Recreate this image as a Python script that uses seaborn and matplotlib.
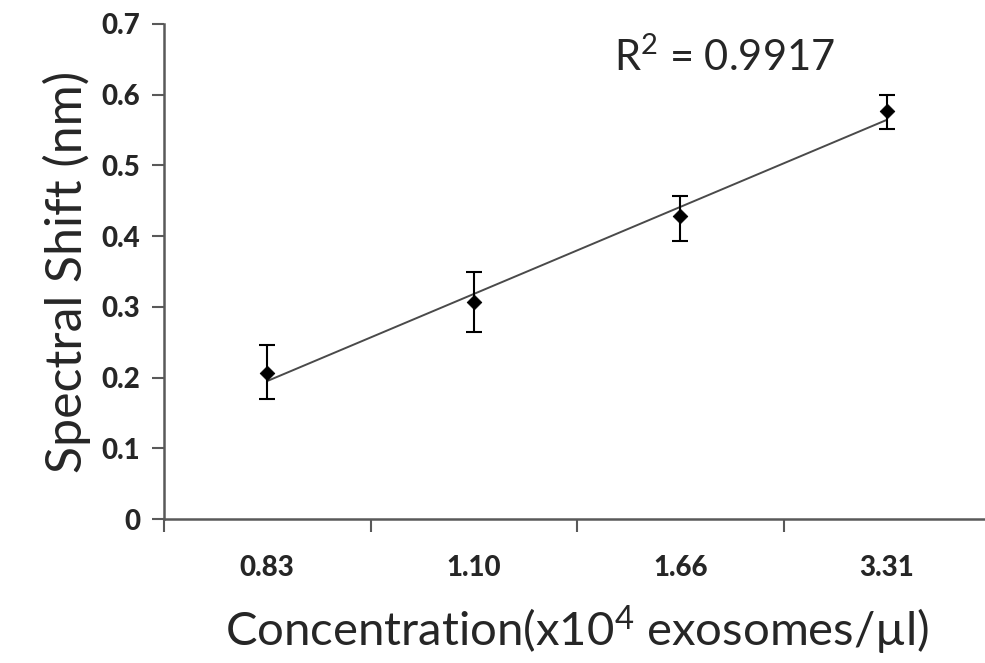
"""Spectral shift vs exosome concentration, Excel-style scatter with trendline."""

import matplotlib

matplotlib.use("Agg")
import matplotlib.pyplot as plt
import numpy as np
import seaborn as sns

sns.set_theme(style="white")
plt.rcParams["font.family"] = ["Lato", "DejaVu Sans"]
plt.rcParams["mathtext.fontset"] = "custom"
plt.rcParams["mathtext.rm"] = "Lato"
plt.rcParams["mathtext.default"] = "rm"

CONCENTRATIONS = ["0.83", "1.10", "1.66", "3.31"]
SHIFT_MEAN = [0.207, 0.307, 0.428, 0.577]
SHIFT_LOW = [0.169, 0.265, 0.393, 0.552]
SHIFT_HIGH = [0.246, 0.349, 0.457, 0.600]
Y_TICK_LABELS = ["0", "0.1", "0.2", "0.3", "0.4", "0.5", "0.6", "0.7"]
R_SQUARED = "0.9917"

AXIS_COLOR = "#595959"

idx = np.arange(len(CONCENTRATIONS))
mean = np.array(SHIFT_MEAN)
yerr = np.vstack([mean - np.array(SHIFT_LOW), np.array(SHIFT_HIGH) - mean])

fig = plt.figure(figsize=(9.85, 6.63), dpi=100)
ax = fig.add_axes([164 / 985, 144 / 663, 826 / 985, 495 / 663])

# linear trendline over the category positions
sns.regplot(
    x=idx, y=mean, ci=None, scatter=False, ax=ax,
    line_kws={"color": "#4a4a4a", "linewidth": 1.4, "zorder": 2},
)
ax.errorbar(idx, mean, yerr=yerr, fmt="none", ecolor="black",
            elinewidth=1.5, capsize=5.5, capthick=1.5, zorder=3)
sns.scatterplot(x=idx, y=mean, marker="D", color="black", s=55,
                edgecolor="black", ax=ax, zorder=4)

ax.set_xlim(-0.5, len(CONCENTRATIONS) - 0.5)
ax.set_ylim(0, 0.7)
ax.set_yticks(np.arange(0, 0.71, 0.1))
ax.set_yticklabels(Y_TICK_LABELS, fontweight="black", fontsize=20)

# category boundaries carry the tick marks, labels sit at the centres
ax.set_xticks(np.arange(-0.5, len(CONCENTRATIONS) + 0.5, 1.0))
ax.set_xticklabels([])
ax.set_xticks(idx, minor=True)
ax.set_xticklabels(CONCENTRATIONS, minor=True, fontweight="black", fontsize=20)
ax.tick_params(axis="x", which="major", bottom=True, direction="out",
               length=9, width=1.5, color=AXIS_COLOR)
ax.tick_params(axis="x", which="minor", bottom=True, length=0, pad=26)
ax.tick_params(axis="y", left=True, direction="out", length=9, width=1.5,
               color=AXIS_COLOR, pad=8)

for side in ("top", "right"):
    ax.spines[side].set_visible(False)
for side in ("left", "bottom"):
    ax.spines[side].set_color(AXIS_COLOR)
    ax.spines[side].set_linewidth(1.8)

ax.set_ylabel("Spectral Shift (nm)", fontsize=36, labelpad=8)
ax.set_xlabel(r"Concentration(x10$^4$ exosomes/µl)", fontsize=34, labelpad=16)

ax.text(1.68, 0.652, f"R$^2$ = {R_SQUARED}", fontsize=30, ha="left",
        va="center")

fig.savefig("out.png", dpi=100)
